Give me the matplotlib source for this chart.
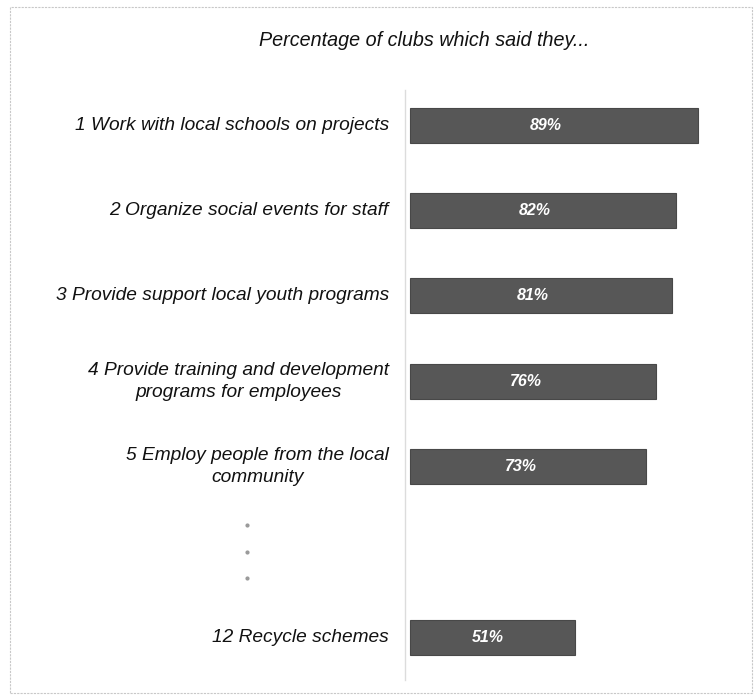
import numpy as np
import matplotlib
matplotlib.use("Agg")
import matplotlib.pyplot as plt
import matplotlib.transforms as mtransforms
from matplotlib.patches import Rectangle

# survey answers (rank 6-11 left out, shown as dots)
LABELS = ["1 Work with local schools on projects",
          "2 Organize social events for staff",
          "3 Provide support local youth programs",
          "4 Provide training and development\nprograms for employees",
          "5 Employ people from the local\ncommunity",
          "12 Recycle schemes"]
VALUES = [89, 82, 81, 76, 73, 51]
SLOTS = [0, 1, 2, 3, 4, 6]   # row 5 is the gap
GAP_SLOT = 5

plt.rcParams['font.family'] = ['Liberation Sans', 'DejaVu Sans']

W, H = 755, 700
fig = plt.figure(figsize=(W / 100, H / 100), dpi=100)
ax = fig.add_axes([405 / W, (H - 680) / H, (734 - 405) / W, (680 - 90) / H])

ax.barh(SLOTS, VALUES, height=0.41, color="#575757", edgecolor="#484848", linewidth=0.8)

for s, v, lab in zip(SLOTS, VALUES, LABELS):
    ax.text(v * 0.47, s, "{}%".format(v), color="white", fontsize=11.5,
            fontstyle="italic", fontweight="bold", ha="center", va="center")
    ax.text(-6.5, s, lab, fontsize=13.8, fontstyle="italic", color="#111111",
            ha="right", va="center", multialignment="center", linespacing=1.4)

# the three small dots standing in for the rows left out
trans = mtransforms.blended_transform_factory(fig.transFigure, ax.transData)
ax.plot([247 / W] * 3, [GAP_SLOT - 0.31, GAP_SLOT, GAP_SLOT + 0.31], ls="none",
        marker="o", ms=2, color="#9a9a9a", transform=trans, clip_on=False)

ax.set_xlim(-1.5, 100)
ax.set_ylim(6.5, -0.41)
ax.set_xticks([])
ax.set_yticks([])
for side in ["top", "right", "bottom"]:
    ax.spines[side].set_visible(False)
ax.spines["left"].set_color("#dcdcdc")
ax.spines["left"].set_linewidth(1.0)

fig.text(424 / W, 1 - 40 / H, "Percentage of clubs which said they...", fontsize=14.2,
         fontstyle="italic", color="#111111", ha="center", va="center")

# faint page frame like the scan
fig.patches.append(Rectangle((10 / W, 7 / H), 742 / W, 686 / H, transform=fig.transFigure,
                             fill=False, edgecolor="#c8c8c8", linewidth=0.8, linestyle=(0, (2, 1))))

fig.savefig("out.png", dpi=100)
